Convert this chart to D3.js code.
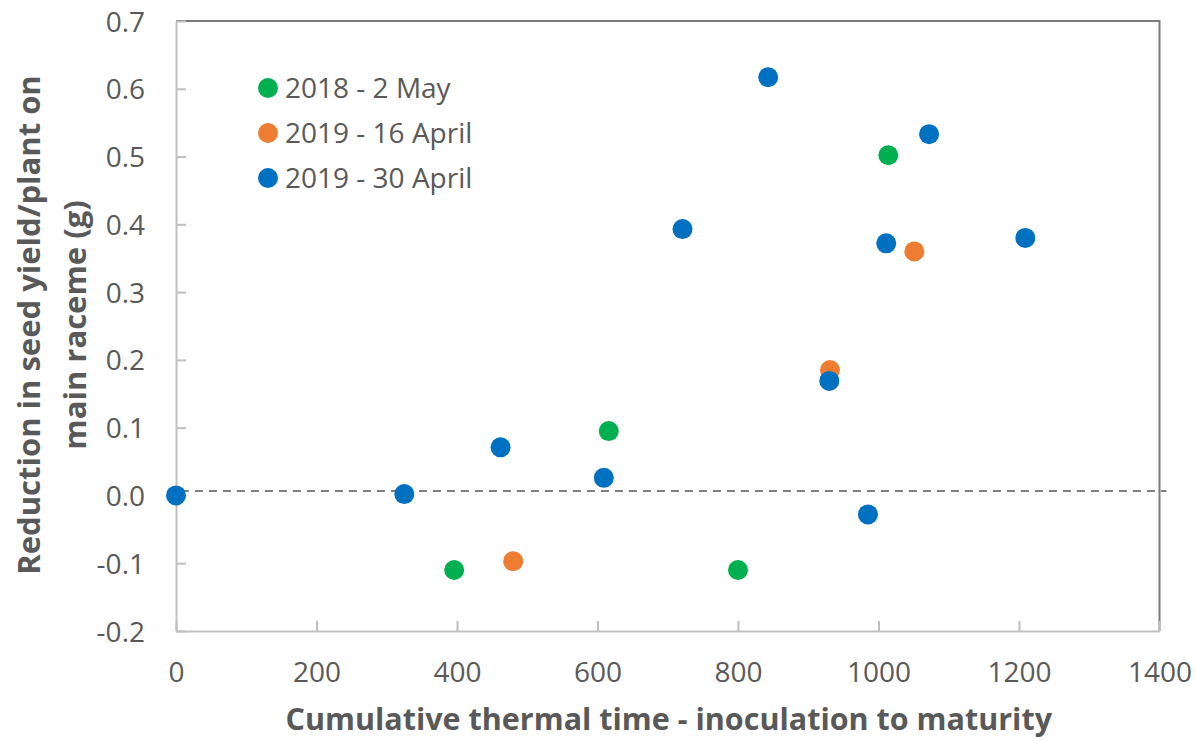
<!DOCTYPE html>
<html>
<head>
<meta charset="utf-8">
<script src="https://cdn.jsdelivr.net/npm/d3@7"></script>
<style>
  body { margin: 0; background: #fff; }
  svg text { font-family: 'Open Sans', sans-serif; fill: #595959; }
</style>
</head>
<body>
<svg id="chart" width="1197" height="741"></svg>
<script>
const seriesNames = ['2018 - 2 May', '2019 - 16 April', '2019 - 30 April']
const seriesColors = ['#00b050', '#ed7d31', '#0070c0']

const may2018X = [396, 616, 800, 1014]
const may2018Y = [-0.110, 0.095, -0.110, 0.502]

const apr16X = [480, 931, 1051]
const apr16Y = [-0.097, 0.185, 0.360]

const apr30X = [0, 325, 462, 609, 721, 843, 930, 985, 1011, 1072, 1209]
const apr30Y = [0.000, 0.002, 0.071, 0.026, 0.393, 0.617, 0.169, -0.028, 0.372, 0.533, 0.380]

const refLineX = [7, 1410]
const refLineY = [0.0065, 0.0065]

const xTicks = [0, 200, 400, 600, 800, 1000, 1200, 1400]
const yTicks = [-0.2, -0.1, 0, 0.1, 0.2, 0.3, 0.4, 0.5, 0.6, 0.7]

const plot = { left: 176, right: 1159.5, top: 21, bottom: 631 }

const svg = d3.select('#chart')

const x = d3.scaleLinear().domain([0, 1400]).range([plot.left, plot.right])
const y = d3.scaleLinear().domain([-0.2, 0.7]).range([plot.bottom, plot.top])

// top / right frame
svg.append('path')
  .attr('d', `M${plot.left},${plot.top}H${plot.right}V${plot.bottom}`)
  .attr('fill', 'none')
  .attr('stroke', '#7a7a7a')
  .attr('stroke-width', 2)

// dashed reference line
svg.append('line')
  .attr('x1', x(refLineX[0])).attr('x2', x(refLineX[1]))
  .attr('y1', y(refLineY[0])).attr('y2', y(refLineY[1]))
  .attr('stroke', '#7f7f7f')
  .attr('stroke-width', 2)
  .attr('stroke-dasharray', '8 6')

// axes
const fmtY = d => (d < 0 ? '-' : '') + d3.format('.1f')(Math.abs(d))
const xAxis = svg.append('g')
  .attr('transform', `translate(0, ${plot.bottom})`)
  .call(d3.axisBottom(x).tickValues(xTicks).tickSizeInner(-10).tickSizeOuter(0).tickPadding(51)
    .tickFormat(d3.format('d')))
const yAxis = svg.append('g')
  .attr('transform', `translate(${plot.left}, 0)`)
  .call(d3.axisLeft(y).tickValues(yTicks).tickSizeInner(-10).tickSizeOuter(0).tickPadding(31)
    .tickFormat(fmtY))

;[xAxis, yAxis].forEach(ax => {
  ax.select('.domain').attr('stroke', '#bfbfbf').attr('stroke-width', 2)
  ax.selectAll('.tick line').attr('stroke', '#bfbfbf').attr('stroke-width', 2)
  ax.selectAll('.tick text')
    .attr('fill', '#595959')
    .style('font-family', "'Open Sans', sans-serif")
    .style('font-size', '28px')
})
yAxis.selectAll('.tick text').attr('dy', '0.36em')
xAxis.selectAll('.tick text').attr('dy', '0')

// points
const series = [
  { xs: may2018X, ys: may2018Y },
  { xs: apr16X, ys: apr16Y },
  { xs: apr30X, ys: apr30Y }
]
series.forEach((s, i) => {
  svg.append('g').selectAll('circle')
    .data(s.xs.map((d, j) => [d, s.ys[j]]))
    .enter().append('circle')
    .attr('cx', d => x(d[0]))
    .attr('cy', d => y(d[1]))
    .attr('r', 10)
    .attr('fill', seriesColors[i])
})

// legend
const legend = svg.append('g').attr('transform', 'translate(268, 88)')
const items = legend.selectAll('g').data(seriesNames)
  .enter().append('g')
  .attr('transform', (d, i) => `translate(0, ${i * 45})`)
items.append('circle').attr('r', 10).attr('fill', (d, i) => seriesColors[i])
items.append('text')
  .attr('x', 17)
  .attr('dy', '0.36em')
  .style('font-size', '28px')
  .text(d => d)

// axis titles
svg.append('text')
  .attr('x', (plot.left + plot.right) / 2 + 1)
  .attr('y', 730)
  .attr('text-anchor', 'middle')
  .style('font-size', '30.5px')
  .style('font-weight', 'bold')
  .text('Cumulative thermal time - inoculation to maturity')

const yTitle = svg.append('text')
  .attr('transform', 'translate(0, 325) rotate(-90)')
  .attr('text-anchor', 'middle')
  .style('font-size', '31px')
  .style('font-weight', 'bold')
yTitle.append('tspan').attr('x', 0).attr('y', 40).text('Reduction in seed yield/plant on')
yTitle.append('tspan').attr('x', 0).attr('y', 86).text('main raceme (g)')
</script>
</body>
</html>
